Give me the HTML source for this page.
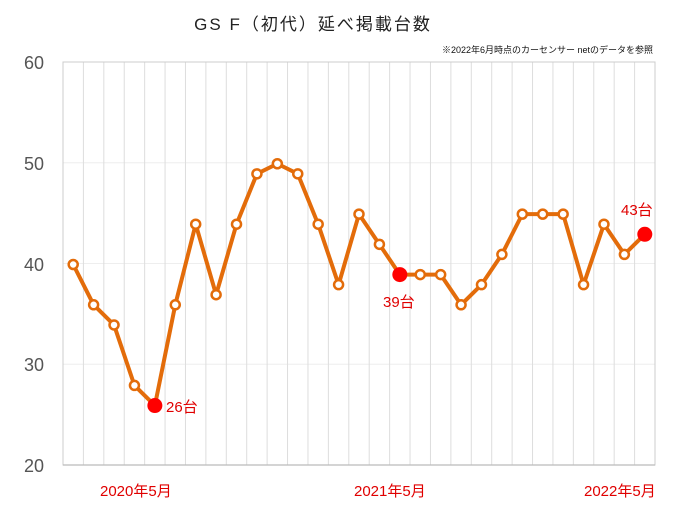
<!DOCTYPE html>
<html><head><meta charset="utf-8"><style>
body{margin:0;background:#fff;}
svg{display:block;font-family:"Liberation Sans","Noto Sans CJK JP",sans-serif;}
</style></head><body>
<svg id="c" width="680" height="511" xmlns="http://www.w3.org/2000/svg">
<rect width="680" height="511" fill="#fff"/>
<text x="313" y="30" font-size="17" text-anchor="middle" fill="#222" letter-spacing="2">GS F（初代）延べ掲載台数</text>
<text x="653" y="53" font-size="9" text-anchor="end" fill="#111">※2022年6月時点のカーセンサー netのデータを参照</text>
<g font-size="18" fill="#555" text-anchor="end">
<text x="44" y="69">60</text><text x="44" y="170">50</text><text x="44" y="271">40</text><text x="44" y="371">30</text><text x="44" y="472">20</text>
</g>
<g id="grid"></g>
<g id="series"></g>
<g font-size="15" fill="#e00000">
<text x="166" y="412">26台</text>
<text x="383" y="307">39台</text>
<text x="621" y="215">43台</text>
<text x="100" y="496">2020年5月</text>
<text x="354" y="496">2021年5月</text>
<text x="584" y="496">2022年5月</text>
</g>
</svg>
<script>
const v=[40,36,34,28,26,36,44,37,44,49,50,49,44,38,45,42,39,39,39,36,38,41,45,45,45,38,44,41,43];
const L=63,R=655,T=62,B=465,w=(R-L)/29;
const Y=d=>B-(d-20)*(B-T)/40+1, X=i=>L+w*(i+0.5);
let g='';
for(let k=1;k<4;k++){const y=B-k*(B-T)/4;g+=`<line x1="${L}" x2="${R}" y1="${y}" y2="${y}" stroke="#eee" stroke-width="1"/>`;}
for(let i=1;i<29;i++){const x=L+w*i;g+=`<line x1="${x}" x2="${x}" y1="${T}" y2="${B}" stroke="#ddd" stroke-width="1"/>`;}
g+=`<rect x="${L}" y="${T}" width="${R-L}" height="${B-T}" fill="none" stroke="#ccc" stroke-width="1"/>`;
g+=`<line x1="${L}" x2="${R}" y1="${B}" y2="${B}" stroke="#bbb" stroke-width="1.2"/>`;
document.getElementById('grid').innerHTML=g;
let s=`<polyline fill="none" stroke="#e36c0a" stroke-width="4" stroke-linejoin="round" points="${v.map((d,i)=>X(i)+','+Y(d)).join(' ')}"/>`;
v.forEach((d,i)=>{
 if(i==4||i==16||i==28) s+=`<circle cx="${X(i)}" cy="${Y(d)}" r="7.5" fill="#ff0000"/>`;
 else s+=`<circle cx="${X(i)}" cy="${Y(d)}" r="4.5" fill="#fff" stroke="#e36c0a" stroke-width="2.5"/>`;
});
document.getElementById('series').innerHTML=s;
</script>
</body></html>
